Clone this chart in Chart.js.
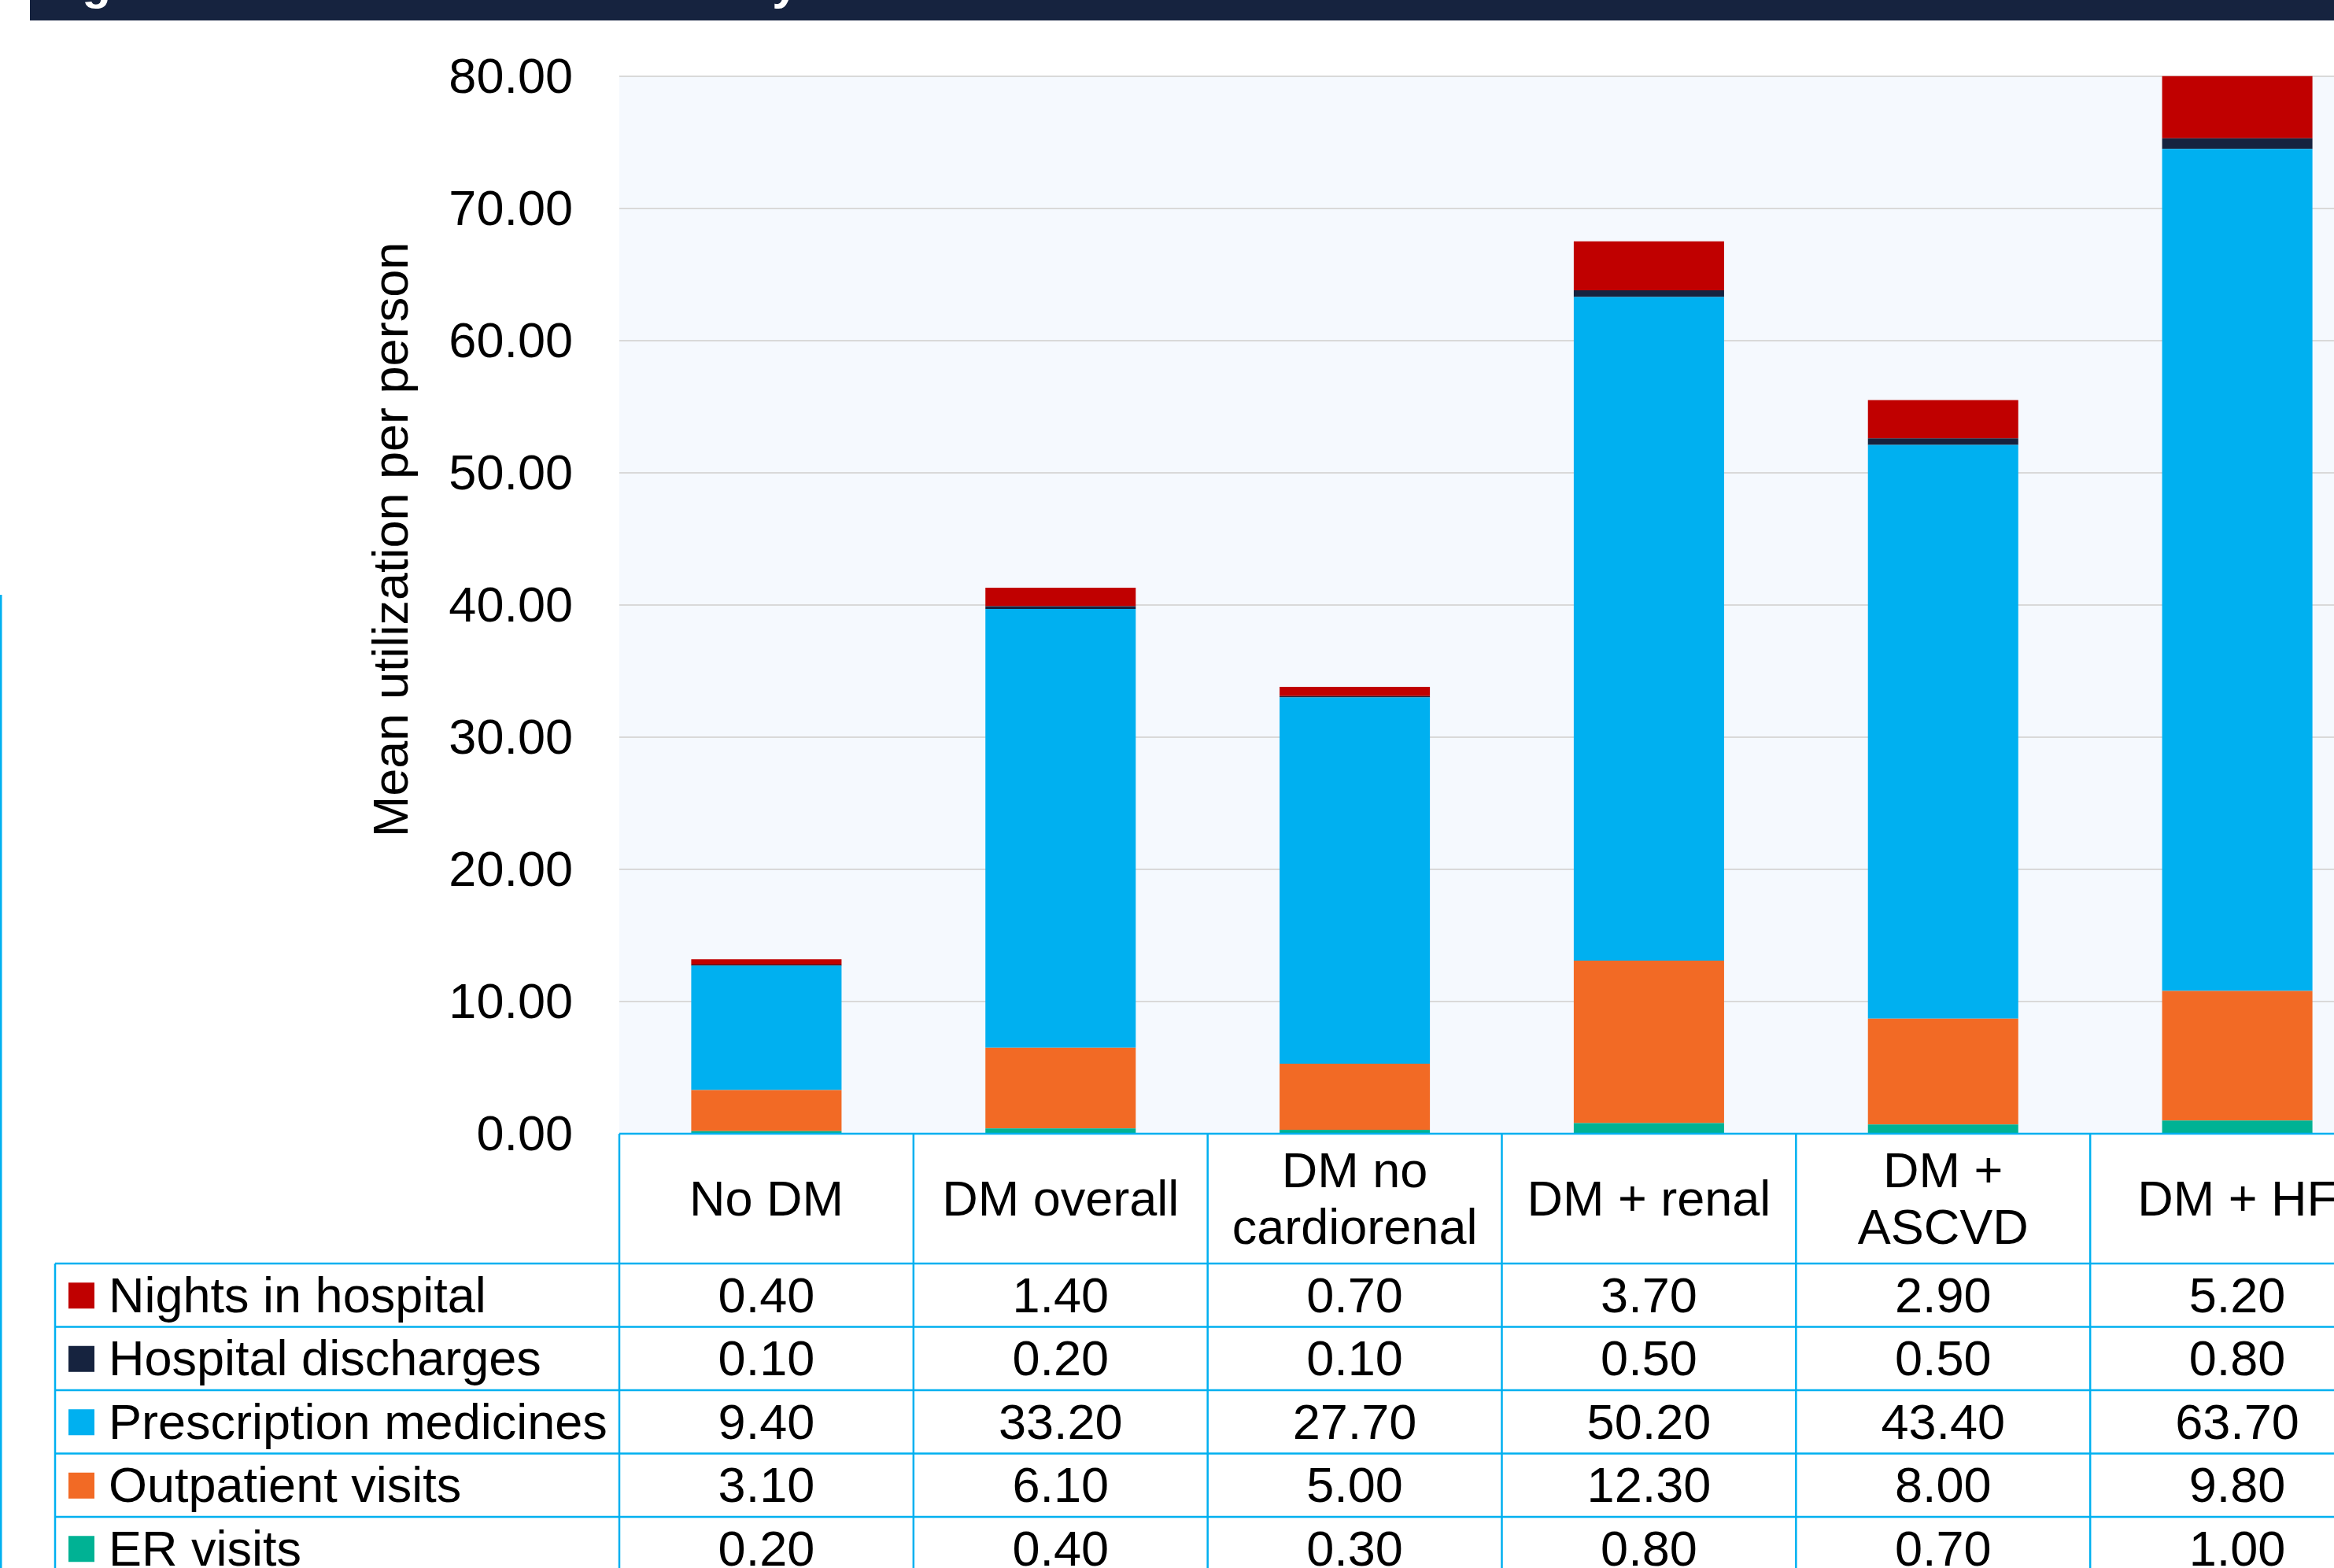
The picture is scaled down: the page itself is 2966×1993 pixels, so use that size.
<!DOCTYPE html>
<html>
<head>
<meta charset="utf-8">
<script src="https://cdn.jsdelivr.net/npm/chart.js@4.4.1/dist/chart.umd.min.js"></script>
<style>
html, body { margin: 0; padding: 0; background: #fff; overflow: hidden; }
#wrap { position: relative; width: 2966px; height: 1993px; overflow: hidden; }
canvas { position: absolute; left: 0; top: 0; }
</style>
</head>
<body>
<div id="wrap"><canvas id="thisChart" width="3040" height="1993"></canvas></div>
<script>
const categories = ['No DM', 'DM overall', ['DM no', 'cardiorenal'], 'DM + renal', ['DM +', 'ASCVD'], 'DM + HF']
const nights = [0.40, 1.40, 0.70, 3.70, 2.90, 5.20]
const discharges = [0.10, 0.20, 0.10, 0.50, 0.50, 0.80]
const prescriptions = [9.40, 33.20, 27.70, 50.20, 43.40, 63.70]
const outpatient = [3.10, 6.10, 5.00, 12.30, 8.00, 9.80]
const erVisits = [0.20, 0.40, 0.30, 0.80, 0.70, 1.00]
const yTicks = [0, 10, 20, 30, 40, 50, 60, 70, 80]

const FONT = '"Liberation Sans", Arial, sans-serif'
const BLUE_LINE = '#00B0F0'
const TXT_SHIFT = 4 // middle baseline sits a little high
Chart.defaults.font.family = FONT

// stacked bottom -> top
const series = [
  { label: 'ER visits', data: erVisits, color: '#00B294' },
  { label: 'Outpatient visits', data: outpatient, color: '#F26A25' },
  { label: 'Prescription medicines', data: prescriptions, color: '#00B0F0' },
  { label: 'Hospital discharges', data: discharges, color: '#16233F' },
  { label: 'Nights in hospital', data: nights, color: '#C00000' },
]

const tablePlugin = {
  id: 'tablePlugin',
  beforeDraw(chart) {
    const { ctx, chartArea: a } = chart
    ctx.save()
    ctx.fillStyle = '#F5F9FE'
    ctx.fillRect(a.left, a.top, a.right - a.left, a.bottom - a.top)
    ctx.restore()
  },
  afterDraw(chart) {
    const { ctx, chartArea: a, width, height } = chart
    const xs = chart.scales.x
    const colW = (a.right - a.left) / categories.length
    const headTop = a.bottom
    const headBottom = 1606
    const rowH = 80.5
    const tableLeft = 70
    const rows = series.slice().reverse()

    ctx.save()
    // header band at top, title mostly cut off
    ctx.fillStyle = '#16233F'
    ctx.fillRect(38, 0, width, 26)
    ctx.fillStyle = '#fff'
    ctx.font = 'bold 60px ' + FONT
    ctx.textBaseline = 'alphabetic'
    ctx.textAlign = 'left'
    ctx.fillText('Figure 4. Healthcare Utilization by Diabetes and Cardiorenal Risk Status', 51, -1)

    // frame line on the far left
    ctx.fillStyle = BLUE_LINE
    ctx.fillRect(0, 756, 2.5, height)

    // y axis title
    ctx.save()
    ctx.translate(518, 686)
    ctx.rotate(-Math.PI / 2)
    ctx.fillStyle = '#000'
    ctx.font = '63px ' + FONT
    ctx.textAlign = 'center'
    ctx.fillText('Mean utilization per person', 0, 0)
    ctx.restore()

    // table grid
    ctx.strokeStyle = BLUE_LINE
    ctx.lineWidth = 2.5
    ctx.beginPath()
    ctx.moveTo(a.left, headTop); ctx.lineTo(width, headTop)
    for (let r = 0; r <= rows.length; r++) {
      const y = headBottom + r * rowH
      ctx.moveTo(tableLeft, y); ctx.lineTo(width, y)
    }
    for (let i = 0; i <= categories.length; i++) {
      const x = a.left + i * colW
      ctx.moveTo(x, headTop); ctx.lineTo(x, height)
    }
    ctx.moveTo(tableLeft, headBottom); ctx.lineTo(tableLeft, height)
    ctx.stroke()

    // header labels
    ctx.fillStyle = '#000'
    ctx.font = '63px ' + FONT
    ctx.textAlign = 'center'
    ctx.textBaseline = 'middle'
    const headMid = (headTop + headBottom) / 2 + TXT_SHIFT
    categories.forEach((c, i) => {
      const x = xs.getPixelForValue(i)
      const lines = Array.isArray(c) ? c : [c]
      lines.forEach((t, k) => {
        ctx.fillText(t, x, headMid + (k - (lines.length - 1) / 2) * 72)
      })
    })

    // rows: legend + values
    rows.forEach((s, r) => {
      const yMid = headBottom + r * rowH + rowH / 2
      ctx.fillStyle = s.color
      ctx.fillRect(87, yMid - 16, 33, 33)
      ctx.fillStyle = '#000'
      ctx.textAlign = 'left'
      ctx.fillText(s.label, 138, yMid + TXT_SHIFT)
      ctx.textAlign = 'center'
      s.data.forEach((v, i) => {
        ctx.fillText(v.toFixed(2), xs.getPixelForValue(i), yMid + TXT_SHIFT)
      })
    })
    ctx.restore()
  }
}

const data = {
  labels: categories,
  datasets: series.map(s => ({
    label: s.label,
    data: s.data,
    backgroundColor: s.color,
    borderWidth: 0,
    barPercentage: 0.511,
    categoryPercentage: 1,
  })),
}

const config = {
  type: 'bar',
  data,
  options: {
    responsive: false,
    animation: false,
    devicePixelRatio: 1,
    layout: { padding: { left: 0, right: 10, top: 95, bottom: 552 } },
    plugins: { legend: { display: false }, tooltip: { enabled: false } },
    scales: {
      x: { stacked: true, display: false, offset: true },
      y: {
        stacked: true,
        min: yTicks[0],
        max: yTicks[yTicks.length - 1],
        afterBuildTicks(s) { s.ticks = yTicks.map(v => ({ value: v })) },
        afterFit(s) { s.width = 787 },
        ticks: { padding: 59, labelOffset: TXT_SHIFT, color: '#000', font: { size: 63 }, callback: v => Number(v).toFixed(2) },
        grid: { color: '#D9D9D9', lineWidth: 2, drawTicks: false },
        border: { display: false },
      },
    },
  },
  plugins: [tablePlugin],
}

const barChart = new Chart(document.getElementById('thisChart').getContext('2d'), config)
</script>
</body>
</html>
